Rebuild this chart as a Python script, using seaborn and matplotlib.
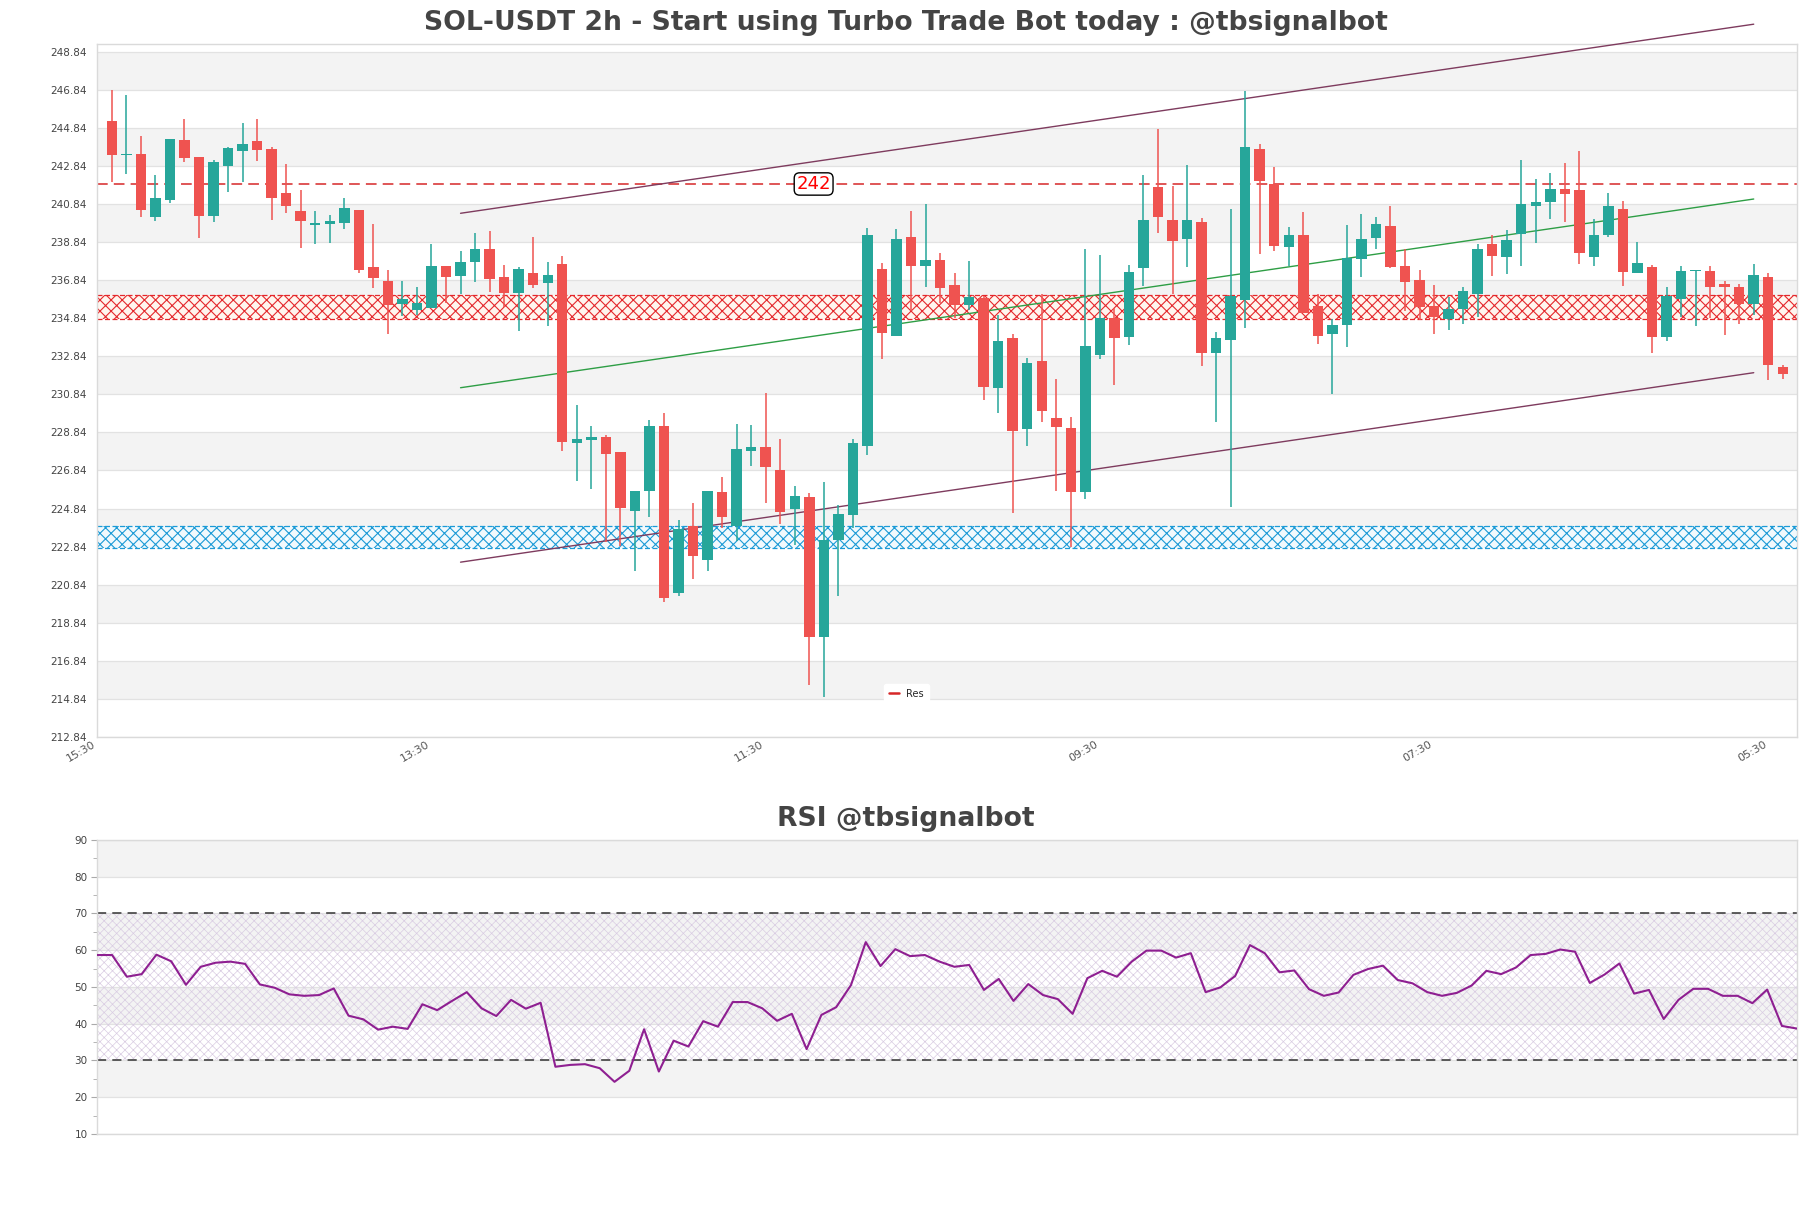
import numpy as np
import pandas as pd
import matplotlib
matplotlib.use("Agg")
import matplotlib.pyplot as plt
from matplotlib.lines import Line2D
import seaborn as sns

# ---------------- data ----------------
opens = [245.19, 243.41, 243.48, 240.17, 241.06, 244.20, 243.30, 240.22, 242.87, 243.64,
         244.15, 243.74, 241.42, 240.47, 239.76, 239.81, 239.86, 240.52, 237.51, 236.82,
         235.60, 235.28, 235.38, 237.58, 237.07, 237.80, 238.46, 236.99, 236.17, 237.21,
         236.71, 237.68, 228.27, 228.44, 228.58, 227.79, 224.71, 225.75, 229.18, 220.42,
         223.90, 222.13, 225.69, 223.94, 227.87, 228.09, 226.88, 224.81, 225.45, 218.06,
         223.18, 224.49, 228.11, 237.42, 233.89, 239.11, 237.60, 237.90, 236.59, 235.52,
         235.89, 231.15, 233.81, 229.03, 232.60, 229.58, 229.09, 225.69, 232.89, 234.86,
         233.86, 237.49, 241.72, 240.03, 239.03, 239.88, 233.04, 233.69, 235.80, 243.73,
         241.91, 238.58, 239.24, 235.49, 234.03, 234.50, 237.96, 239.06, 239.68, 237.57,
         236.84, 235.47, 234.82, 235.31, 236.13, 238.73, 238.07, 239.29, 240.75, 240.96,
         241.63, 241.57, 238.06, 239.20, 240.60, 237.21, 237.56, 233.84, 235.88, 237.33,
         237.31, 236.65, 236.47, 235.60, 237.00, 232.26]
highs = [246.83, 246.60, 244.43, 242.39, 244.25, 245.30, 243.30, 243.15, 243.84, 245.09,
         245.30, 243.84, 242.95, 241.57, 240.47, 240.27, 241.14, 240.52, 239.81, 237.36,
         236.82, 236.47, 238.73, 237.58, 238.40, 239.33, 239.41, 237.64, 237.56, 239.11,
         237.82, 238.10, 230.27, 229.18, 228.72, 227.79, 225.77, 229.50, 229.88, 224.24,
         225.11, 225.75, 226.52, 229.26, 229.22, 230.89, 228.51, 226.00, 225.65, 226.26,
         225.05, 228.47, 239.59, 237.74, 239.51, 240.50, 240.86, 238.28, 237.23, 237.84,
         236.03, 235.02, 234.01, 232.74, 236.14, 231.66, 229.63, 238.47, 238.15, 235.39,
         237.62, 242.36, 244.77, 241.78, 242.92, 240.12, 234.11, 240.56, 246.80, 243.98,
         242.77, 239.65, 240.41, 236.10, 234.80, 239.73, 240.31, 240.17, 240.73, 238.49,
         237.40, 236.57, 235.96, 236.49, 238.73, 239.20, 239.47, 243.15, 242.15, 242.49,
         243.01, 243.63, 240.05, 241.45, 241.03, 238.84, 237.66, 236.47, 237.59, 237.40,
         237.59, 236.78, 236.65, 237.71, 237.23, 232.39]
lows = [242.00, 242.44, 240.17, 239.96, 240.91, 243.07, 239.07, 239.91, 241.49, 242.00,
        243.12, 240.01, 240.40, 238.56, 238.76, 238.81, 239.55, 237.21, 236.42, 234.02,
        234.96, 235.02, 235.36, 235.62, 236.11, 236.75, 236.23, 235.42, 234.17, 236.43,
        234.46, 227.85, 226.28, 225.86, 223.08, 222.85, 221.57, 224.38, 219.91, 220.26,
        221.12, 221.53, 223.84, 223.14, 227.06, 225.11, 224.04, 222.93, 215.54, 214.92,
        220.22, 223.84, 227.63, 232.70, 233.89, 235.22, 236.49, 235.66, 234.88, 235.26,
        230.55, 229.86, 224.59, 228.15, 229.41, 225.74, 222.83, 225.33, 232.70, 231.33,
        233.41, 236.55, 239.33, 236.12, 237.53, 232.32, 229.37, 224.90, 234.33, 238.21,
        238.38, 237.59, 235.14, 233.50, 230.87, 233.33, 237.01, 238.49, 237.49, 235.22,
        234.77, 234.03, 234.24, 234.56, 234.91, 237.06, 237.19, 237.59, 238.80, 240.08,
        239.91, 237.71, 237.59, 239.12, 236.52, 237.20, 233.02, 233.64, 234.91, 234.43,
        234.86, 233.97, 234.56, 235.02, 231.62, 231.67]
closes = [243.41, 243.46, 240.55, 241.14, 244.25, 243.25, 240.22, 243.05, 243.79, 244.00,
          243.71, 241.16, 240.75, 239.96, 239.80, 239.96, 240.63, 237.36, 236.95, 235.55,
          235.83, 235.62, 237.58, 237.03, 237.78, 238.46, 236.91, 236.17, 237.42, 236.61,
          237.09, 228.33, 228.47, 228.58, 227.71, 224.85, 225.77, 229.18, 220.12, 223.78,
          222.33, 225.75, 224.38, 227.99, 228.07, 227.04, 224.65, 225.49, 218.10, 223.20,
          224.55, 228.31, 239.21, 234.05, 238.99, 237.60, 237.90, 236.41, 235.52, 235.95,
          231.25, 233.65, 228.92, 232.51, 229.97, 229.13, 225.69, 233.36, 234.86, 233.83,
          237.25, 239.99, 240.16, 238.90, 240.03, 233.04, 233.83, 236.03, 243.83, 242.06,
          238.62, 239.20, 235.14, 233.91, 234.50, 238.01, 238.99, 239.78, 237.54, 236.75,
          235.43, 234.91, 235.35, 236.26, 238.47, 238.12, 238.94, 240.84, 240.94, 241.63,
          241.38, 238.27, 239.20, 240.73, 237.28, 237.77, 233.84, 236.01, 237.34, 237.36,
          236.49, 236.47, 235.57, 237.10, 232.36, 231.93]
rsi = [58.7, 58.7, 52.8, 53.5, 58.8, 57.0, 50.6, 55.5, 56.6, 56.9, 56.3, 50.7, 49.8, 48.0,
       47.6, 47.8, 49.6, 42.2, 41.2, 38.4, 39.2, 38.6, 45.3, 43.7, 46.2, 48.6, 44.2, 42.1,
       46.5, 44.1, 45.7, 28.3, 28.8, 29.0, 27.9, 24.2, 27.2, 38.5, 27.0, 35.4, 33.8, 40.7,
       39.2, 45.9, 45.9, 44.2, 40.8, 42.7, 33.1, 42.4, 44.5, 50.5, 62.2, 55.7, 60.3, 58.4,
       58.7, 56.9, 55.5, 56.0, 49.2, 52.2, 46.2, 50.8, 47.8, 46.7, 42.7, 52.4, 54.4, 52.8,
       56.9, 59.9, 59.9, 58.0, 59.2, 48.6, 49.9, 53.0, 61.4, 59.2, 54.0, 54.5, 49.4, 47.6,
       48.5, 53.3, 54.9, 55.8, 51.9, 51.0, 48.6, 47.6, 48.4, 50.4, 54.4, 53.5, 55.3, 58.7,
       59.0, 60.2, 59.6, 51.1, 53.4, 56.4, 48.2, 49.2, 41.3, 46.5, 49.5, 49.5, 47.6, 47.6,
       45.6, 49.3, 39.4, 38.7]

tick_positions = [0, 23, 46, 69, 92, 115]
tick_labels = ["15:30", "13:30", "11:30", "09:30", "07:30", "05:30"]

res_level = 241.9
res_text = "242"
res_zone = [234.8, 236.05]
sup_zone = [222.75, 223.9]

channel_x = [25, 114]
channel_upper = [240.36, 250.30]
channel_mid = [231.19, 241.11]
channel_lower = [222.02, 231.98]

price_min, price_max = 212.84, 249.28
rsi_min, rsi_max = 10, 90
rsi_upper, rsi_lower = 70, 30

title_main = "SOL-USDT 2h - Start using Turbo Trade Bot today : @tbsignalbot"
title_rsi = "RSI @tbsignalbot"

# ---------------- style ----------------
sns.set_style("white")
plt.rcParams["font.family"] = ["DejaVu Sans"]
plt.rcParams["hatch.linewidth"] = 0.8

UP = "#26a69a"
DOWN = "#ef5350"
BAND = "#f3f3f3"
GRID = "#e2e2e2"
SPINE = "#dadada"
TXT = "#444444"

df = pd.DataFrame({"x": np.arange(1, len(opens) + 1), "open": opens, "high": highs,
                   "low": lows, "close": closes})
df["up"] = df["close"] >= df["open"]
df["color"] = np.where(df["up"], UP, DOWN)
body = df["close"] - df["open"]
df["h"] = np.where(body.abs() < 0.07, np.where(df["up"], 0.07, -0.07), body)

fig = plt.figure(figsize=(18.11, 12.08), dpi=100)
ax = fig.add_axes([0.05373, 0.39007, 0.93871, 0.57384])
ax2 = fig.add_axes([0.05373, 0.06126, 0.93838, 0.24338])

# ---------------- main price panel ----------------
yt = np.arange(price_min, price_max, 2.0)
for i in range(len(yt) - 1):
    if i % 2 == 1:
        ax.axhspan(yt[i], yt[i + 1], color=BAND, lw=0, zorder=0)
ax.set_yticks(yt)
ax.set_yticklabels([f"{v:.2f}" for v in yt])
ax.grid(axis="y", color=GRID, lw=0.9, zorder=0.5)
ax.grid(axis="x", visible=False)
ax.set_axisbelow(True)

# zones
ax.axhspan(res_zone[0], res_zone[1], facecolor="#fff5ee", edgecolor="#e4282c",
           hatch="xxx", lw=0, zorder=1)
for v in res_zone:
    ax.axhline(v, color="#e4282c", ls=(0, (4, 2)), lw=0.9, zorder=1.1)
ax.axhspan(sup_zone[0], sup_zone[1], facecolor="#f1f9fd", edgecolor="#1b9ad6",
           hatch="xxx", lw=0, zorder=1)
for v in sup_zone:
    ax.axhline(v, color="#1b9ad6", ls=(0, (4, 2)), lw=0.9, zorder=1.1)

# resistance line
ax.axhline(res_level, color="#d62728", ls=(0, (7, 4)), lw=1.1, zorder=1.2)
ax.text(49.3, res_level, res_text, color="red", fontsize=13, ha="center", va="center",
        zorder=6, bbox=dict(boxstyle="round,pad=0.12,rounding_size=0.3", fc="white",
                            ec="black", lw=1))

# channel
ax.plot(channel_x, channel_upper, color="#7e3b5e", lw=1, clip_on=False, zorder=3)
ax.plot(channel_x, channel_lower, color="#7e3b5e", lw=1, clip_on=False, zorder=3)
ax.plot(channel_x, channel_mid, color="#2e9e45", lw=1, clip_on=False, zorder=3)

# candles
ax.vlines(df["x"], df["low"], df["high"], colors=df["color"], lw=1.1, zorder=4)
ax.bar(df["x"], df["h"], bottom=df["open"], width=0.72, color=df["color"], lw=0, zorder=5)

ax.set_xlim(0, len(opens) + 1)
ax.set_ylim(price_min, price_max)
ax.set_xticks(tick_positions)
ax.set_xticklabels(tick_labels, rotation=30, ha="right", fontsize=8, color="#555555")
ax.tick_params(axis="y", labelsize=7.5, labelcolor=TXT, length=3, color="#bbbbbb", pad=4.5)
ax.tick_params(axis="x", length=0, pad=2)
for s in ax.spines.values():
    s.set_color(SPINE)
    s.set_linewidth(1)

leg_handle = Line2D([0], [0], color="#d62728", lw=1.8)
ax.legend([leg_handle], ["Res"], loc="center", bbox_to_anchor=(0.476, 0.062), fontsize=7,
          frameon=True, facecolor="white", edgecolor="white", framealpha=1,
          handlelength=1.0, borderpad=0.5)

# ---------------- RSI panel ----------------
rt = np.arange(rsi_min, rsi_max + 1, 10)
for i in range(len(rt) - 1):
    if i % 2 == 1:
        ax2.axhspan(rt[i], rt[i + 1], color=BAND, lw=0, zorder=0)
plt.rcParams["hatch.linewidth"] = 0.5
ax2.fill_between([0, len(rsi) - 1], rsi_lower, rsi_upper, facecolor="none",
                 edgecolor="#d9cce2", hatch="xxxx", lw=0, zorder=0.6)
ax2.axhline(rsi_upper, color="#333333", ls=(0, (6, 4)), lw=1.1, zorder=2)
ax2.axhline(rsi_lower, color="#333333", ls=(0, (6, 4)), lw=1.1, zorder=2)
rsi_df = pd.DataFrame({"x": np.arange(len(rsi)), "rsi": rsi})
sns.lineplot(data=rsi_df, x="x", y="rsi", ax=ax2, color="#8e1f91", lw=1.5, zorder=3)
ax2.set_xlim(0, len(rsi) - 1)
ax2.set_ylim(rsi_min, rsi_max)
ax2.set_yticks(rt)
ax2.set_yticks(np.arange(rsi_min + 5, rsi_max, 10), minor=True)
ax2.grid(axis="y", which="major", color=GRID, lw=0.9)
ax2.grid(axis="x", visible=False)
ax2.set_axisbelow(True)
ax2.set_xticks([])
ax2.set_xlabel("")
ax2.set_ylabel("")
ax2.tick_params(axis="y", which="major", labelsize=7.5, labelcolor=TXT, length=4,
                color="#aaaaaa", left=True, pad=3)
ax2.tick_params(axis="y", which="minor", length=3, color="#aaaaaa", left=True)
for s in ax2.spines.values():
    s.set_color(SPINE)
    s.set_linewidth(1)

ax.set_xlabel("")
ax.set_ylabel("")

# ---------------- titles ----------------
fig.text(0.5, 1 - 23 / 1208, title_main, ha="center", va="center", fontsize=19.2,
         fontweight="bold", color=TXT)
fig.text(0.5, 1 - 819 / 1208, title_rsi, ha="center", va="center", fontsize=19.2,
         fontweight="bold", color=TXT)

fig.savefig("out.png", dpi=100)
